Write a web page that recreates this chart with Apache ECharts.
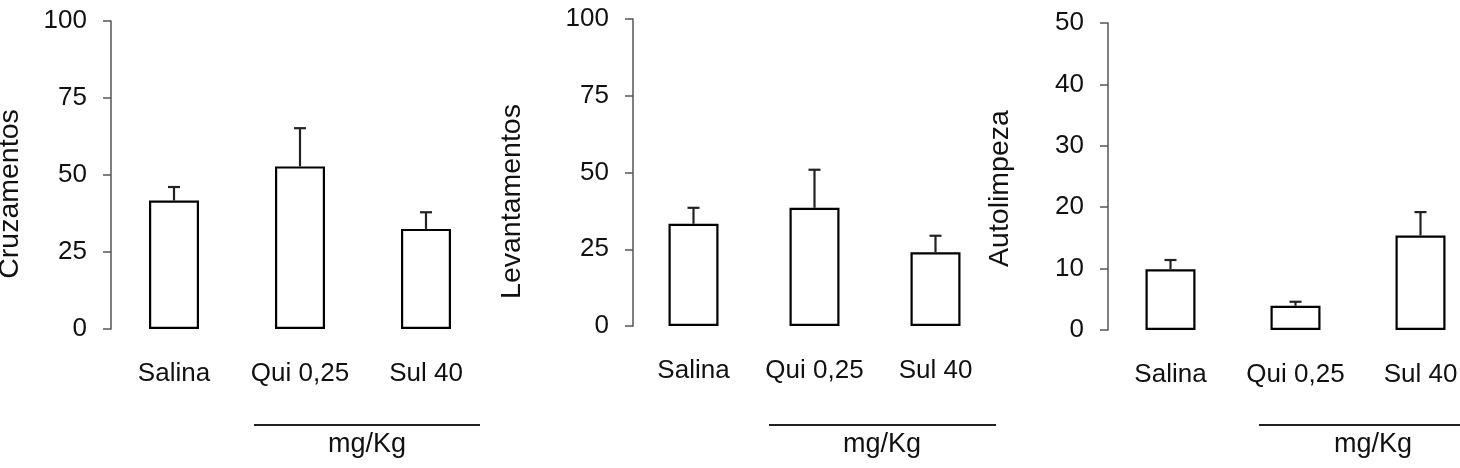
<!DOCTYPE html>
<html>
<head>
<meta charset="utf-8">
<style>html,body{margin:0;padding:0;background:#fff}#c{width:1460px;height:468px}</style>
<script src="https://cdn.jsdelivr.net/npm/echarts@6/dist/echarts.min.js"></script>
</head>
<body>
<div id="c"></div>
<script>
const categories = ['Salina', 'Qui 0,25', 'Sul 40'];
const yNames = ['Cruzamentos', 'Levantamentos', 'Autolimpeza'];
const cruzMean = [41.7, 52.8, 32.5];
const cruzSem = [4.4, 12.4, 5.4];
const levMean = [33.3, 38.5, 24.0];
const levSem = [5.2, 12.4, 5.4];
const autoMean = [9.9, 3.95, 15.4];
const autoSem = [1.5, 0.65, 3.8];
const yMax = [100, 100, 50];
const yInterval = [25, 25, 10];
const unitLabel = 'mg/Kg';

const means = [cruzMean, levMean, autoMean];
const sems = [cruzSem, levSem, autoSem];

const FONT = 'Liberation Sans, Arial, sans-serif';
const grids = [
  {left: 111, top: 21, width: 378, height: 308, outerBoundsMode: 'none', containLabel: false},
  {left: 633, top: 19, width: 363, height: 307, outerBoundsMode: 'none', containLabel: false},
  {left: 1108, top: 23, width: 375, height: 307, outerBoundsMode: 'none', containLabel: false}
];
const namePad = [38, 58, 24];
const nameGap = [86, 106, 93];

const chart = echarts.init(document.getElementById('c'));
const option = {
  animation: false,
  backgroundColor: '#fff',
  grid: grids,
  xAxis: grids.map((g, i) => ({
    type: 'category', gridIndex: i, data: categories,
    axisLine: {show: false}, axisTick: {show: false}, splitLine: {show: false},
    axisLabel: {color: '#111', fontFamily: FONT, fontSize: 26, margin: 32, interval: 0, hideOverlap: false}
  })),
  yAxis: grids.map((g, i) => ({
    type: 'value', gridIndex: i, min: 0, max: yMax[i], interval: yInterval[i],
    name: yNames[i], nameLocation: 'middle', nameRotate: 90, nameGap: nameGap[i],
    nameTextStyle: {color: '#111', fontFamily: FONT, fontSize: 28.5, padding: [0, namePad[i], 0, 0]},
    axisLine: {show: true, lineStyle: {color: '#555', width: 1.5}},
    axisTick: {show: true, length: 8, lineStyle: {color: '#555', width: 1.5}},
    splitLine: {show: false},
    axisLabel: {color: '#111', fontFamily: FONT, fontSize: 26, margin: 24}
  })),
  series: [],
  graphic: []
};

means.forEach((m, i) => {
  option.series.push({
    type: 'bar', xAxisIndex: i, yAxisIndex: i, data: m, barWidth: 50,
    itemStyle: {color: '#fff', borderColor: '#000', borderWidth: 2.2},
    silent: true, z: 2
  });
  option.series.push({
    type: 'custom', xAxisIndex: i, yAxisIndex: i,
    data: m.map((v, k) => [k, v, sems[i][k]]),
    z: 3,
    renderItem: function (params, api) {
      const x = api.value(0), v = api.value(1), e = api.value(2);
      const p0 = api.coord([x, v]);
      const p1 = api.coord([x, v + e]);
      const st = {stroke: '#222', lineWidth: 2.2};
      return {type: 'group', children: [
        {type: 'line', shape: {x1: p0[0], y1: p0[1], x2: p1[0], y2: p1[1]}, style: st},
        {type: 'line', shape: {x1: p1[0] - 6, y1: p1[1], x2: p1[0] + 6, y2: p1[1]}, style: st}
      ]};
    }
  });
});

const brackets = [
  {x1: 254, x2: 480, tx: 367},
  {x1: 769, x2: 996, tx: 882},
  {x1: 1259, x2: 1460, tx: 1373}
];
brackets.forEach(b => {
  option.graphic.push({type: 'line', shape: {x1: b.x1, y1: 425, x2: b.x2, y2: 425},
    style: {stroke: '#222', lineWidth: 2}});
  option.graphic.push({type: 'text', x: b.tx, y: 445,
    style: {text: unitLabel, fontFamily: FONT, fontSize: 27, fill: '#111', textAlign: 'center', textVerticalAlign: 'middle'}});
});

chart.setOption(option);
</script>
</body>
</html>
